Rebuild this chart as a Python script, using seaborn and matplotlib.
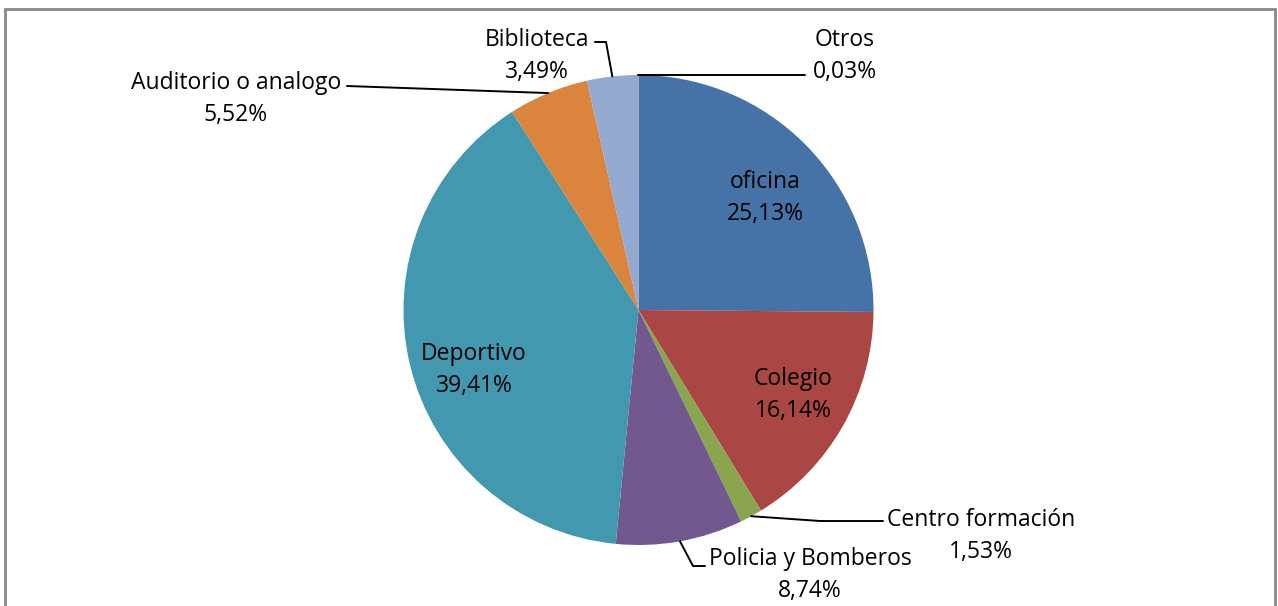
import numpy as np
import matplotlib
matplotlib.use("Agg")
import matplotlib.pyplot as plt
import seaborn as sns
from matplotlib.patches import Rectangle

# data
categories = ["oficina", "Colegio", "Centro formación", "Policia y Bomberos",
              "Deportivo", "Auditorio o analogo", "Biblioteca", "Otros"]
shares = [25.13, 16.14, 1.53, 8.74, 39.41, 5.52, 3.49, 0.03]
slice_colors = ["#4572A7", "#AA4643", "#89A54E", "#71588F",
                "#4198AF", "#DB843D", "#93A9CF", "#D19392"]

# layout in pixels (pie centre / radius, label centres, leader elbows)
CX, CY, R = 638.5, 310.0, 235.0
W, H = 1278, 606
label_pos = {
    "oficina": (765, 198),
    "Colegio": (793, 395),
    "Centro formación": (981, 536),
    "Policia y Bomberos": (810, 575),
    "Deportivo": (474, 370),
    "Auditorio o analogo": (236, 99),
    "Biblioteca": (537, 56),
    "Otros": (845, 56),
}
leaders = {
    "Centro formación": [(820, 521), (883, 521)],
    "Policia y Bomberos": [(693, 566), (705, 566)],
    "Auditorio o analogo": [(347, 86)],
    "Biblioteca": [(606, 42), (595, 42)],
    "Otros": [(805, 75)],
}


def px(x, y):
    return (x - CX) / R, (CY - y) / R


sns.set_style("white")
plt.rcParams['font.family'] = ['Open Sans', 'DejaVu Sans']

fig = plt.figure(figsize=(W / 100, H / 100), dpi=100)
ax = fig.add_axes([0, 0, 1, 1])

wedges, _ = ax.pie(shares, colors=sns.color_palette(slice_colors), startangle=90,
                   counterclock=False, radius=1, center=(0, 0),
                   wedgeprops=dict(linewidth=0))

ax.set_aspect('auto')
ax.set_xlim(-CX / R, (W - CX) / R)
ax.set_ylim(-(H - CY) / R, CY / R)
ax.axis('off')

for w, name, val in zip(wedges, categories, shares):
    txt = f"{name}\n{val:.2f}%".replace('.', ',')
    tx, ty = px(*label_pos[name])
    ax.text(tx, ty, txt, ha='center', va='center', fontsize=16.5,
            linespacing=1.42, color='black')
    if name in leaders:
        mid = np.deg2rad((w.theta1 + w.theta2) / 2)
        pts = [(np.cos(mid), np.sin(mid))] + [px(*p) for p in leaders[name]]
        xs, ys = zip(*pts)
        ax.plot(xs, ys, color='black', lw=1.4, solid_joinstyle='miter')

# chart frame
fig.add_artist(Rectangle((5 / W, -0.05), 1270 / W, 1.05 - 9 / H,
                         transform=fig.transFigure, fill=False,
                         edgecolor='#898989', linewidth=2))

fig.savefig("out.png", dpi=100)
